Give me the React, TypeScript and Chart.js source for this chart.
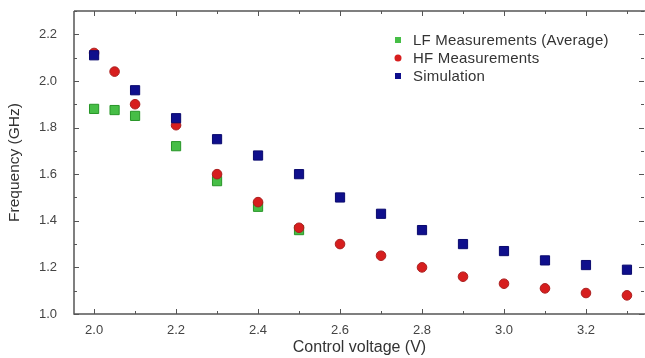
import React, { useEffect, useRef } from "react";
import { Chart, registerables } from "chart.js";

Chart.register(...registerables);

const lfVoltage = [2.0, 2.05, 2.1, 2.2, 2.3, 2.4, 2.5];
const lfFreq = [1.88, 1.875, 1.85, 1.72, 1.57, 1.46, 1.36];
const hfVoltage = [2.0, 2.05, 2.1, 2.2, 2.3, 2.4, 2.5, 2.6, 2.7, 2.8, 2.9, 3.0, 3.1, 3.2, 3.3];
const hfFreq = [2.12, 2.04, 1.9, 1.81, 1.6, 1.48, 1.37, 1.3, 1.25, 1.2, 1.16, 1.13, 1.11, 1.09, 1.08];
const simVoltage = [2.0, 2.1, 2.2, 2.3, 2.4, 2.5, 2.6, 2.7, 2.8, 2.9, 3.0, 3.1, 3.2, 3.3];
const simFreq = [2.11, 1.96, 1.84, 1.75, 1.68, 1.6, 1.5, 1.43, 1.36, 1.3, 1.27, 1.23, 1.21, 1.19];
const xTicks = [2.0, 2.2, 2.4, 2.6, 2.8, 3.0, 3.2];
const yTicks = [1.0, 1.2, 1.4, 1.6, 1.8, 2.0, 2.2];

const FONT = "'Liberation Sans', Arial, sans-serif";

const framePlugin = {
  id: "frame",
  afterDatasetsDraw(chart: any) {
    const { ctx, chartArea: a, scales } = chart;
    const xs = scales.x;
    const ys = scales.y;
    ctx.save();
    ctx.strokeStyle = "#555";
    ctx.lineWidth = 1.5;
    ctx.beginPath();
    ctx.moveTo(a.left, a.top);
    ctx.lineTo(a.left, a.bottom);
    ctx.lineTo(a.right, a.bottom);
    ctx.moveTo(a.left, a.top);
    ctx.lineTo(a.right, a.top);
    ctx.stroke();
    ctx.lineWidth = 1;
    ctx.beginPath();
    for (let v = 2.0; v <= 3.35; v += 0.1) {
      const major = Math.round(v * 10) % 2 === 0;
      const len = major ? 5 : 3;
      const px = Math.round(xs.getPixelForValue(v)) + 0.5;
      if (px < a.left || px > a.right) continue;
      ctx.moveTo(px, a.bottom);
      ctx.lineTo(px, a.bottom - len);
      ctx.moveTo(px, a.top);
      ctx.lineTo(px, a.top + len);
    }
    for (let v = 1.0; v <= 2.31; v += 0.1) {
      const major = Math.round(v * 10) % 2 === 0;
      const len = major ? 5 : 3;
      const py = Math.round(ys.getPixelForValue(v)) + 0.5;
      ctx.moveTo(a.left, py);
      ctx.lineTo(a.left + len, py);
      ctx.moveTo(a.right - 1, py);
      ctx.lineTo(a.right - 1 - len, py);
    }
    ctx.stroke();

    // legend
    const ds = chart.data.datasets;
    const ly = [40, 58, 76];
    ctx.font = "15px " + FONT;
    try {
      ctx.letterSpacing = "0.2px";
    } catch (e) {}
    ctx.textBaseline = "middle";
    ctx.textAlign = "left";
    ds.forEach((d: any, i: number) => {
      ctx.fillStyle = d.backgroundColor;
      if (d.pointStyle === "circle") {
        ctx.beginPath();
        ctx.arc(398, ly[i], 3.5, 0, Math.PI * 2);
        ctx.fill();
      } else {
        ctx.fillRect(395, ly[i] - 3, 6, 6);
      }
      ctx.fillStyle = "#333";
      ctx.fillText(d.label, 413, ly[i] + 1);
    });
    ctx.restore();
  },
};

const zeroPad = (s: any) => {
  s.paddingTop = 0;
  s.paddingBottom = 0;
  s.paddingLeft = 0;
  s.paddingRight = 0;
};

export default function App() {
  const ref = useRef<HTMLCanvasElement>(null);
  useEffect(() => {
    if (!ref.current) return;
    const chart = new Chart(ref.current, {
      type: "scatter",
      data: {
        datasets: [
          {
            label: "LF Measurements (Average)",
            data: lfVoltage.map((x, i) => ({ x, y: lfFreq[i] })),
            pointStyle: "rect",
            pointRadius: 6.5,
            backgroundColor: "rgb(70,190,70)",
            borderColor: "rgb(40,150,40)",
            borderWidth: 1,
            order: 2,
          },
          {
            label: "HF Measurements",
            data: hfVoltage.map((x, i) => ({ x, y: hfFreq[i] })),
            pointStyle: "circle",
            pointRadius: 4.8,
            backgroundColor: "rgb(215,30,30)",
            borderColor: "rgb(170,30,30)",
            borderWidth: 1,
            order: 1,
          },
          {
            label: "Simulation",
            data: simVoltage.map((x, i) => ({ x, y: simFreq[i] })),
            pointStyle: "rect",
            pointRadius: 6.5,
            backgroundColor: "rgb(15,15,140)",
            borderColor: "rgb(10,10,110)",
            borderWidth: 1,
            order: 0,
          },
        ],
      },
      plugins: [framePlugin],
      options: {
        responsive: false,
        animation: false,
        layout: { autoPadding: false, padding: { top: 11, right: 0, left: 0, bottom: 0 } },
        plugins: { legend: { display: false }, tooltip: { enabled: false } },
        scales: {
          x: {
            type: "linear",
            min: 1.951,
            max: 3.344,
            border: { display: false },
            grid: { display: false, drawTicks: false },
            afterBuildTicks: (s: any) => {
              s.ticks = xTicks.map((v) => ({ value: v }));
            },
            afterFit: (s: any) => {
              s.height = 44;
              zeroPad(s);
            },
            ticks: {
              padding: 9,
              color: "#444",
              font: { family: FONT, size: 13 },
              callback: (v: any) => Number(v).toFixed(1),
            },
            title: {
              display: true,
              text: "Control voltage (V)",
              color: "#333",
              font: { family: FONT, size: 16 },
              padding: { top: 0, bottom: 1 },
            },
          },
          y: {
            type: "linear",
            min: 1.0,
            max: 2.3,
            border: { display: false },
            grid: { display: false, drawTicks: false },
            afterBuildTicks: (s: any) => {
              s.ticks = yTicks.map((v) => ({ value: v }));
            },
            afterFit: (s: any) => {
              s.width = 74;
              zeroPad(s);
            },
            ticks: {
              padding: 17,
              color: "#444",
              font: { family: FONT, size: 13 },
              callback: (v: any) => Number(v).toFixed(1),
            },
            title: {
              display: true,
              text: "Frequency (GHz)",
              color: "#333",
              font: { family: FONT, size: 15.5 },
              padding: { top: 5, bottom: 0 },
            },
          },
        },
      },
    });
    return () => chart.destroy();
  }, []);
  return (
    <div style={{ position: "absolute", left: 0, top: 0, width: 645, height: 358, background: "#fff" }}>
      <canvas ref={ref} width={645} height={358} />
    </div>
  );
}
